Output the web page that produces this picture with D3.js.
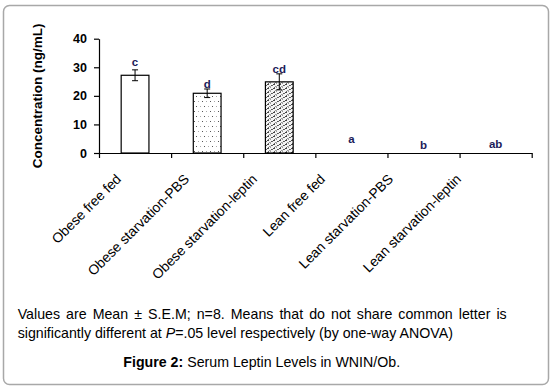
<!DOCTYPE html>
<html lang="en">
<head>
<meta charset="UTF-8">
<title>Serum Leptin Levels</title>
<style>
    body { margin: 0; background: #fff; }
    text { font-family: Arial, "Liberation Sans", sans-serif; }
</style>
</head>
<body>
<div id="chart"></div>
<script src="https://d3js.org/d3.v7.min.js"></script>
<script>
    // data
    const groups = ['Obese free fed', 'Obese starvation-PBS', 'Obese starvation-leptin',
        'Lean free fed', 'Lean starvation-PBS', 'Lean starvation-leptin']
    const means = [27.2, 20.9, 24.9, 0, 0, 0]
    const sems = [1.9, 1.5, 2.8, 0, 0, 0]
    const letters = ['c', 'd', 'cd', 'a', 'b', 'ab']
    const letterAt = [30.4, 22.9, 28.1, 3.6, 1.4, 1.6]   // ng/mL level of each letter
    const fills = ['#fff', 'url(#dots)', 'url(#dense)', 'none', 'none', 'none']
    const yTicks = [0, 10, 20, 30, 40]

    const width = 553
    const height = 391

    const svg = d3.select('#chart').append('svg')
        .attr('width', width)
        .attr('height', height)

    // patterns for the hatched bars
    const defs = svg.append('defs')
    function pixelPattern(id, w, h, bg, pixels) {
        const p = defs.append('pattern')
            .attr('id', id)
            .attr('patternUnits', 'userSpaceOnUse')
            .attr('width', w).attr('height', h)
        p.append('rect').attr('width', w).attr('height', h).attr('fill', bg)
        pixels.forEach(([px, py, c]) => {
            p.append('rect').attr('x', px).attr('y', py).attr('width', 1).attr('height', 1).attr('fill', c)
        })
    }
    pixelPattern('dots', 8, 10, '#fff', [
        [2, 1, '#555'], [6, 1, '#aaa'], [0, 6, '#aaa'], [4, 6, '#555']
    ])
    pixelPattern('dense', 6, 4, '#f4f4f4', [
        [3, 0, '#444'], [4, 0, '#444'], [1, 1, '#555'], [2, 1, '#666'],
        [0, 2, '#aaa'], [5, 2, '#999'], [4, 3, '#666'], [0, 3, '#999']
    ])

    // frame
    svg.append('rect')
        .attr('x', 3.5).attr('y', 5.5)
        .attr('width', 545).attr('height', 379)
        .attr('rx', 6)
        .attr('fill', '#fff')
        .attr('stroke', '#a8a8a8')
        .attr('stroke-width', 1.5)

    const x = d3.scaleBand()
        .domain(groups)
        .range([99, 531.7])
        .padding(0)

    const y = d3.scaleLinear()
        .domain([0, 40])
        .range([153, 38.7])

    const barW = x.step() * 0.385

    // y axis
    svg.append('g')
        .attr('transform', 'translate(99,0)')
        .call(d3.axisLeft(y).tickValues(yTicks).tickSize(5).tickSizeOuter(0).tickPadding(7))
        .call(g => g.selectAll('text')
            .attr('font-size', 12.5)
            .attr('font-weight', 'bold')
            .attr('fill', '#000'))
        .call(g => g.selectAll('line, path').attr('stroke', '#000').attr('stroke-width', 1.2))

    // x axis with ticks at category boundaries
    const xb = d3.scaleLinear().domain([0, groups.length]).range(x.range())
    svg.append('g')
        .attr('transform', `translate(0,${y(0)})`)
        .call(d3.axisBottom(xb).tickValues(d3.range(groups.length + 1)).tickSize(5).tickSizeOuter(0).tickFormat(''))
        .call(g => g.selectAll('line, path').attr('stroke', '#000').attr('stroke-width', 1.2))

    // bars
    svg.append('g')
        .selectAll('rect')
        .data(groups)
        .enter()
        .append('rect')
        .attr('x', d => x(d) + (x.step() - barW) / 2)
        .attr('y', (_, i) => y(means[i]))
        .attr('width', barW)
        .attr('height', (_, i) => y(0) - y(means[i]))
        .attr('fill', (_, i) => fills[i])
        .attr('stroke', (_, i) => means[i] > 0 ? '#000' : 'none')
        .attr('stroke-width', 1.2)

    // error bars
    const err = svg.append('g')
        .selectAll('g')
        .data(groups.filter((_, i) => sems[i] > 0))
        .enter()
        .append('g')
        .attr('stroke', '#000')
        .attr('stroke-width', 1)
    const cx = d => x(d) + x.step() / 2
    const at = (d, s) => y(means[groups.indexOf(d)] + s * sems[groups.indexOf(d)])
    err.append('line')
        .attr('x1', cx).attr('x2', cx)
        .attr('y1', d => at(d, 1))
        .attr('y2', d => at(d, -1))
    ;[1, -1].forEach(s => {
        err.append('line')
            .attr('x1', d => cx(d) - 3)
            .attr('x2', d => cx(d) + 3)
            .attr('y1', d => at(d, s))
            .attr('y2', d => at(d, s))
    })

    // significance letters
    svg.append('g')
        .selectAll('text')
        .data(letters)
        .enter()
        .append('text')
        .attr('x', (_, i) => x(groups[i]) + x.step() / 2)
        .attr('y', (_, i) => y(letterAt[i]))
        .attr('text-anchor', 'middle')
        .attr('font-size', 11.5)
        .attr('font-weight', 'bold')
        .attr('fill', '#1c1c5a')
        .text(d => d)

    // rotated category labels (spaced a bit tighter than the categories, as in the figure)
    const labelX = d3.scalePoint().domain(groups).range([122, 462])
    svg.append('g')
        .selectAll('text')
        .data(groups)
        .enter()
        .append('text')
        .attr('transform', d => `translate(${labelX(d)},180) rotate(-45)`)
        .attr('text-anchor', 'end')
        .attr('font-size', 13.8)
        .attr('fill', '#000')
        .text(d => d)

    // y axis title
    svg.append('text')
        .attr('transform', `translate(42,${(y(0) + y(40)) / 2}) rotate(-90)`)
        .attr('text-anchor', 'middle')
        .attr('font-size', 13.5)
        .attr('font-weight', 'bold')
        .text('Concentration (ng/mL)')

    // notes under the chart, first line justified
    const note1 = svg.append('text')
        .attr('x', 17.7)
        .attr('y', 319)
        .attr('font-size', 14.2)
        .text('Values are Mean ± S.E.M; n=8. Means that do not share common letter is')
    const natural = note1.node().getComputedTextLength()
    const spaces = note1.text().split(' ').length - 1
    note1.attr('word-spacing', (506.7 - 17.7 - natural) / spaces)

    const note2 = svg.append('text')
        .attr('x', 17.7)
        .attr('y', 338)
        .attr('font-size', 14.2)
    note2.append('tspan').text('significantly different at ')
    note2.append('tspan').attr('font-style', 'italic').text('P')
    note2.append('tspan').text('=.05 level respectively (by one-way ANOVA)')

    const caption = svg.append('text')
        .attr('x', 261.7)
        .attr('y', 367)
        .attr('text-anchor', 'middle')
        .attr('font-size', 14.2)
    caption.append('tspan').attr('font-weight', 'bold').text('Figure 2:')
    caption.append('tspan').text(' Serum Leptin Levels in WNIN/Ob.')
</script>
</body>
</html>
